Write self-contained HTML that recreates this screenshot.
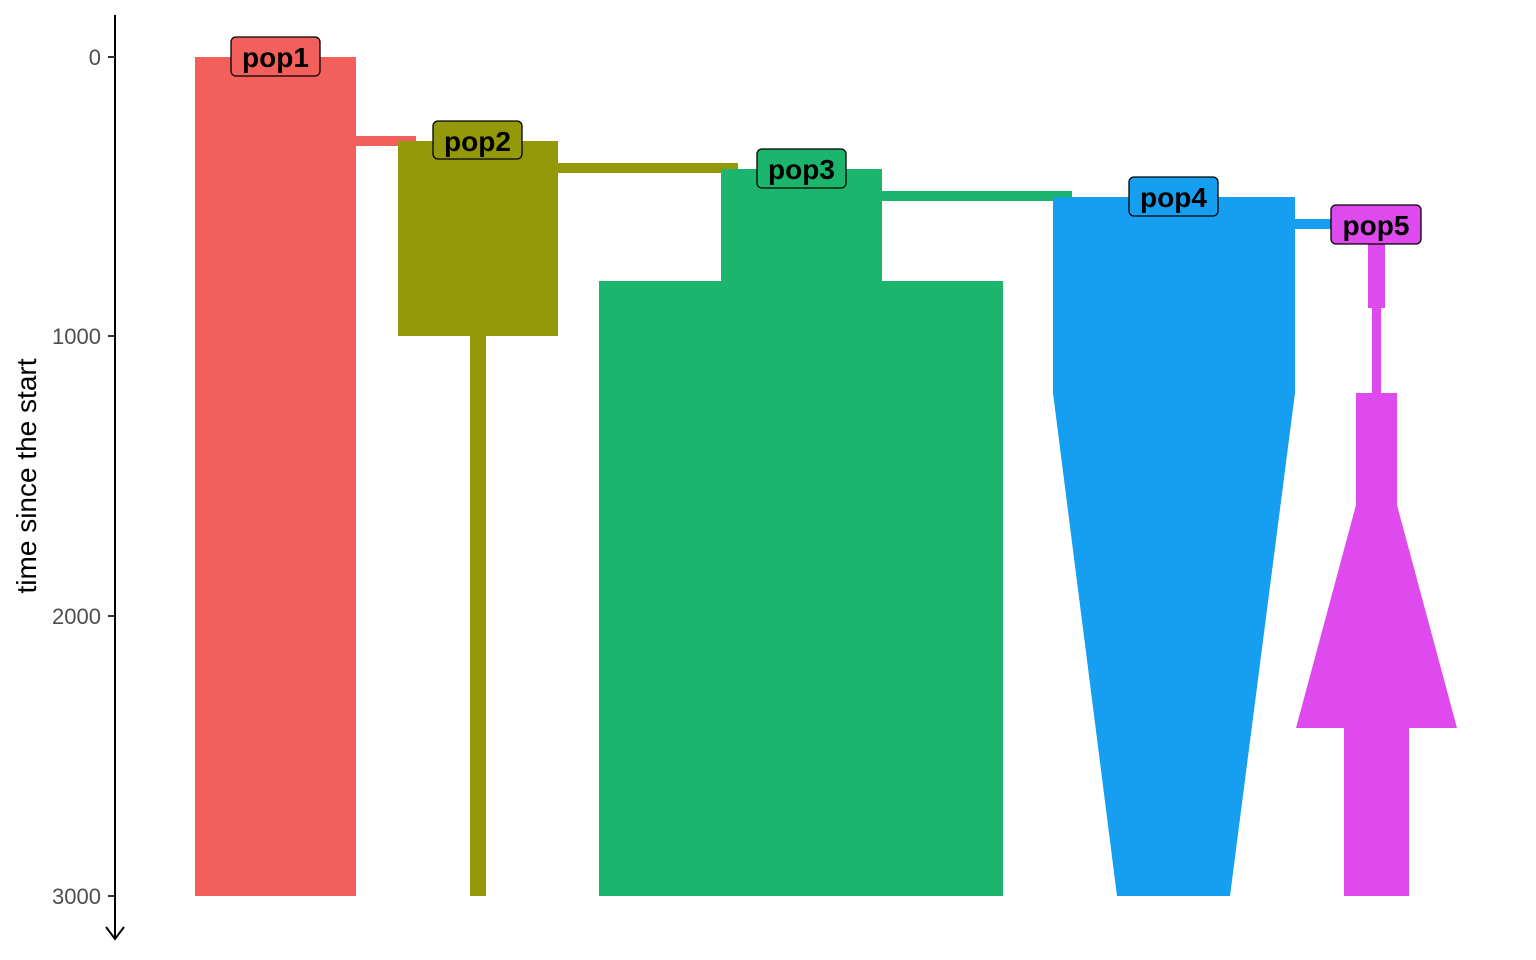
<!DOCTYPE html>
<html><head><meta charset="utf-8"><style>html,body{margin:0;padding:0;background:#fff}svg{display:block}</style></head>
<body>
<svg width="1536" height="960" viewBox="0 0 1536 960" xmlns="http://www.w3.org/2000/svg" font-family="Liberation Sans, Arial, sans-serif">
<rect width="1536" height="960" fill="#fff"/>
<rect x="356" y="136" width="60" height="10" fill="#F3605C"/>
<rect x="558" y="163" width="180" height="10" fill="#94990A"/>
<rect x="882" y="191" width="190" height="10" fill="#1BB56E"/>
<rect x="1295" y="219" width="50" height="10" fill="#169FF0"/>
<rect x="195" y="57" width="161" height="839" fill="#F3605C"/>
<rect x="398" y="141" width="160" height="195" fill="#94990A"/>
<rect x="470" y="336" width="16" height="560" fill="#94990A"/>
<rect x="721" y="169" width="161" height="112" fill="#1BB56E"/>
<rect x="599" y="281" width="404" height="615" fill="#1BB56E"/>
<rect x="1053" y="197" width="242" height="196" fill="#169FF0"/>
<polygon points="1053,393 1295,393 1230,896 1117,896" fill="#169FF0"/>
<rect x="1368" y="226" width="17" height="82" fill="#DE4AEE"/>
<rect x="1372" y="308" width="9" height="85" fill="#DE4AEE"/>
<rect x="1356" y="393" width="41" height="112" fill="#DE4AEE"/>
<polygon points="1356,505 1397,505 1457,728 1296,728" fill="#DE4AEE"/>
<rect x="1344" y="728" width="65" height="168" fill="#DE4AEE"/>
<g font-weight="bold" font-size="28" text-anchor="middle" stroke-width="1.3">
<rect x="231" y="37" width="89" height="39" rx="5" fill="#F3605C" stroke="#000"/>
<text x="275.5" y="67">pop1</text>
<rect x="433" y="121" width="89" height="38" rx="5" fill="#94990A" stroke="#000"/>
<text x="477.5" y="151">pop2</text>
<rect x="757" y="149" width="89" height="39" rx="5" fill="#1BB56E" stroke="#000"/>
<text x="801.5" y="179">pop3</text>
<rect x="1129" y="177" width="89" height="39" rx="5" fill="#169FF0" stroke="#000"/>
<text x="1173.5" y="207">pop4</text>
<rect x="1331" y="205" width="90" height="39" rx="5" fill="#DE4AEE" stroke="#000"/>
<text x="1376" y="235">pop5</text>
</g>
<line x1="115" y1="15" x2="115" y2="938" stroke="#000" stroke-width="2"/>
<polyline points="106,927 115,939 124,927" fill="none" stroke="#000" stroke-width="2"/>
<g stroke="#333" stroke-width="2">
<line x1="108" y1="57" x2="115" y2="57"/>
<line x1="108" y1="336" x2="115" y2="336"/>
<line x1="108" y1="616" x2="115" y2="616"/>
<line x1="108" y1="896" x2="115" y2="896"/>
</g>
<g font-size="22" fill="#4d4d4d" text-anchor="end">
<text x="101" y="65">0</text>
<text x="101" y="344">1000</text>
<text x="101" y="624">2000</text>
<text x="101" y="904">3000</text>
</g>
<text x="0" y="0" font-size="28" fill="#000" text-anchor="middle" transform="translate(36,476) rotate(-90)">time since the start</text>
</svg>
</body></html>
